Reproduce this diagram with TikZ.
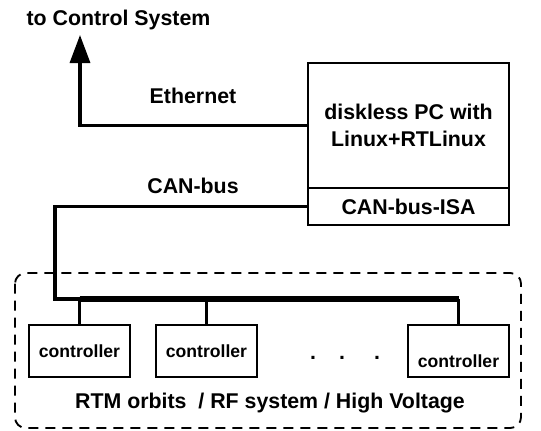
\documentclass[tikz,border=0pt]{standalone}
\usepackage{fontspec}
\setmainfont{Liberation Sans}
\usetikzlibrary{arrows.meta,positioning}
\tikzset{
  layout/.style={x=0.75pt,y=-0.75pt},
  box/.style={draw,rectangle,line width=1.5pt,inner sep=0pt,outer sep=0pt,
    align=center,font=\fontsize{16}{20.25}\selectfont\bfseries},
  unit/.style={box,minimum width=75.75pt,minimum height=39pt,
    font=\fontsize{13.2}{16}\selectfont\bfseries},
  lbl/.style={inner sep=0pt,anchor=base,font=\fontsize{16}{19}\selectfont\bfseries},
  wire/.style={line width=2.5pt},
  bus/.style={line width=3.8pt},
  group/.style={dash pattern=on 7.5pt off 5.25pt,line width=1.4pt,rounded corners=8pt}
}
\begin{document}
\begin{tikzpicture}[layout]
  \useasboundingbox (0,0) rectangle (541,430);
  \node[box,minimum width=150.75pt,minimum height=93.75pt] (pc) at (408.5,125.5) {diskless PC with\\Linux+RTLinux};
  \node[box,minimum width=150.75pt,minimum height=27.75pt,below=0pt of pc] (isa) {CAN-bus-ISA};
  \node[unit] (ctrl1) at (79.5,351) {controller};
  \node[unit,right=19.5pt of ctrl1] (ctrl2) {controller};
  \node[unit] (ctrl3) at (458.5,351) {\raisebox{-8pt}[\height][\depth]{controller}};
  \node[lbl] (dots) at (345,359) {.\hspace{17.3pt}.\hspace{21.8pt}.};
  \node[lbl] (cs) at (118.5,25) {to Control System};
  \node[lbl] (eth) at (193,103) {Ethernet};
  \node[lbl] (can) at (193,193) {CAN-bus};
  \node[lbl] (sys) at (270,408) {RTM orbits\ \ / RF system / High Voltage};
  \coordinate (up) at (80,35);
  \coordinate (drop) at (55,299);
  \draw[wire,-{Triangle[length=21pt,width=15pt]}] (pc.west) -| (up);
  \draw[wire] (isa.west) -| (drop) -- (ctrl1.north |- drop);
  \draw[bus] (ctrl1.north |- drop) -- (ctrl3.north |- drop);
  \foreach \c in {ctrl1,ctrl2,ctrl3}
    \draw[wire] (\c.north) -- (\c.north |- drop);
  % dashed frame round the field side
  \draw[group] (15,273) rectangle (521,428);
\end{tikzpicture}
\end{document}
